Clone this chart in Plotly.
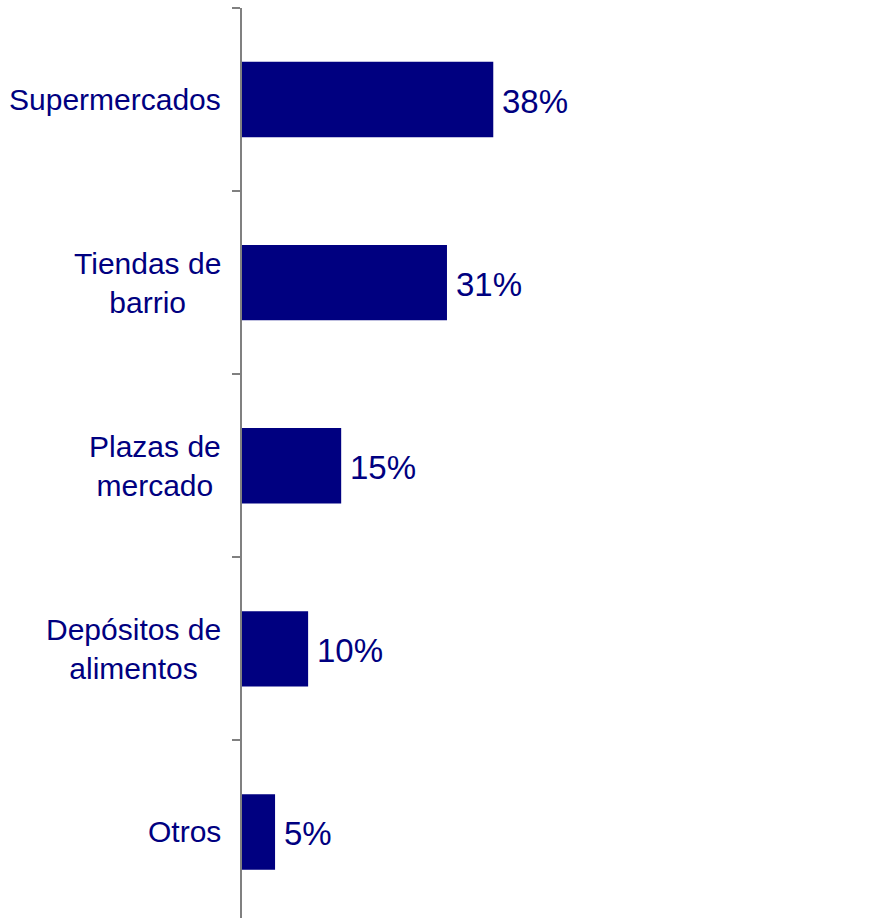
import plotly.graph_objects as go

categories = ["Supermercados", "Tiendas de<br>barrio", "Plazas de<br>mercado",
              "Depósitos de<br>alimentos", "Otros"]
values = [38, 31, 15, 10, 5]
value_labels = ["38%", "31%", "15%", "10%", "5%"]

NAVY = "#000080"
GRAY = "#808080"
FONT = "Liberation Sans, Arial, Helvetica, sans-serif"

fig = go.Figure(go.Bar(
    x=values,
    y=categories,
    orientation="h",
    marker=dict(color=NAVY, line=dict(width=0)),
    hoverinfo="skip",
))

annotations = []
# category labels, centred line by line, right-aligned against the axis
for cat in categories:
    annotations.append(dict(
        x=0, xref="paper", y=cat, yref="y",
        text=cat, showarrow=False, xanchor="right", yanchor="middle",
        align="center", xshift=-19,
        font=dict(family=FONT, size=30, color=NAVY),
    ))
# value labels just past each bar end
for cat, v, lab in zip(categories, values, value_labels):
    annotations.append(dict(
        x=v, xref="x", y=cat, yref="y",
        text=lab, showarrow=False, xanchor="left", yanchor="middle",
        xshift=7, yshift=-2,
        font=dict(family=FONT, size=33, color=NAVY),
    ))

fig.update_layout(
    width=890, height=918,
    margin=dict(l=242, r=0, t=8, b=0),
    paper_bgcolor="white", plot_bgcolor="white",
    showlegend=False,
    bargap=0.588,
    annotations=annotations,
    xaxis=dict(range=[0, 98], visible=False, fixedrange=True),
    yaxis=dict(
        type="category",
        range=[4.470, -0.5],
        showticklabels=False,
        showline=True, linecolor=GRAY, linewidth=2,
        ticks="outside", tickson="boundaries", ticklen=8,
        tickcolor=GRAY, tickwidth=2,
        showgrid=False, zeroline=False, fixedrange=True,
    ),
)

fig.write_html("out.html")
